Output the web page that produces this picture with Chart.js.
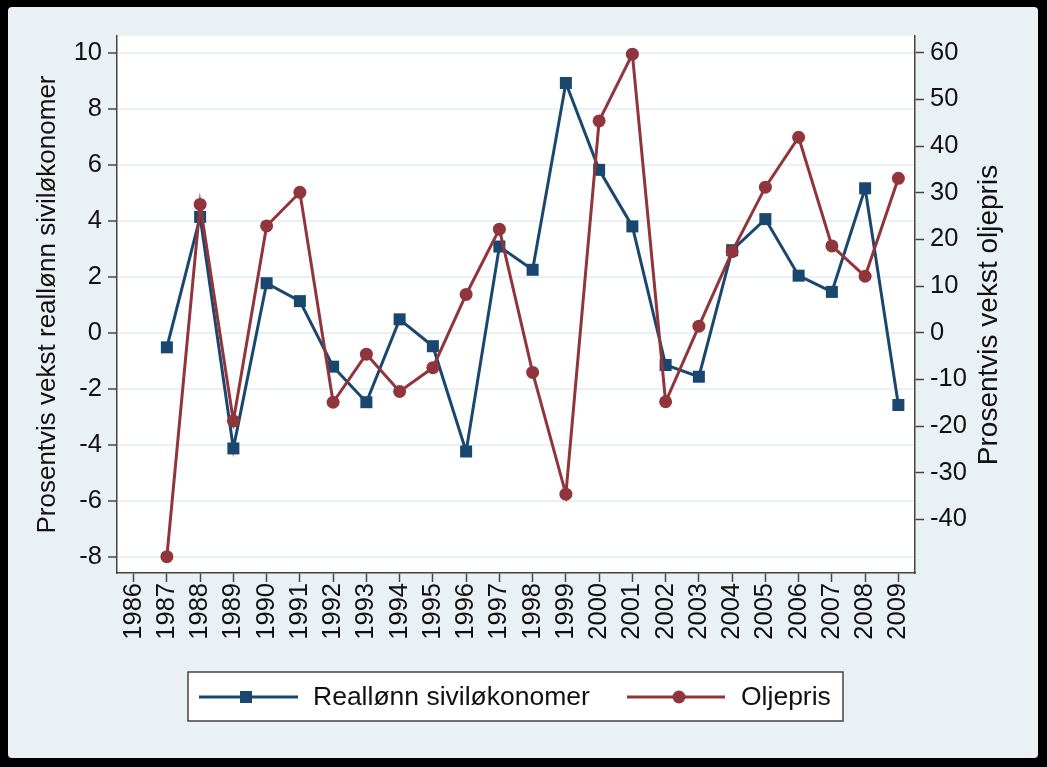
<!DOCTYPE html>
<html>
<head>
<meta charset="utf-8">
<script src="https://cdn.jsdelivr.net/npm/chart.js@4.4.0/dist/chart.umd.min.js"></script>
<style>
  html, body { margin: 0; padding: 0; background: #000; }
  #frame {
    position: absolute; left: 8px; top: 7px; width: 1030px; height: 751px;
    background: #eaf1f4; border-radius: 4px;
  }
</style>
</head>
<body>
<div id="frame"><canvas id="chart" width="1030" height="751"></canvas></div>
<script>
const years = [1987, 1988, 1989, 1990, 1991, 1992, 1993, 1994, 1995, 1996, 1997, 1998,
               1999, 2000, 2001, 2002, 2003, 2004, 2005, 2006, 2007, 2008, 2009];
const reallonn = [-0.52, 4.14, -4.13, 1.77, 1.13, -1.21, -2.48, 0.48, -0.48, -4.24, 3.08, 2.25,
                  8.92, 5.82, 3.8, -1.15, -1.57, 2.95, 4.06, 2.04, 1.46, 5.16, -2.58];
const oljepris = [-48.0, 27.5, -18.9, 22.9, 30.1, -14.9, -4.6, -12.6, -7.5, 8.2, 22.2, -8.5,
                  -34.6, 45.4, 59.7, -14.8, 1.4, 17.4, 31.2, 41.9, 18.6, 12.1, 33.1];
const xTicks = [1986, 1987, 1988, 1989, 1990, 1991, 1992, 1993, 1994, 1995, 1996, 1997,
                1998, 1999, 2000, 2001, 2002, 2003, 2004, 2005, 2006, 2007, 2008, 2009];
const leftTicks = [-8, -6, -4, -2, 0, 2, 4, 6, 8, 10];
const rightTicks = [-40, -30, -20, -10, 0, 10, 20, 30, 40, 50, 60];

const BLUE = '#1a476f';
const RED = '#90353b';
const FONT = '"Liberation Sans", Arial, sans-serif';

// white plot area + right axis title (reads bottom to top) + boxed legend
const decor = {
  id: 'decor',
  beforeDraw(chart) {
    const { ctx, chartArea: a } = chart;
    ctx.save();
    ctx.fillStyle = '#fff';
    ctx.fillRect(a.left, a.top, a.right - a.left, a.bottom - a.top);
    ctx.restore();
  },
  afterDraw(chart) {
    const { ctx } = chart;
    ctx.save();
    ctx.font = '28px ' + FONT;
    ctx.fillStyle = '#111';
    ctx.textAlign = 'center';
    ctx.textBaseline = 'middle';
    ctx.translate(981, 308);
    ctx.rotate(-Math.PI / 2);
    ctx.fillText('Prosentvis vekst oljepris', 0, 0);
    ctx.restore();

    // legend
    ctx.save();
    ctx.fillStyle = '#fff';
    ctx.fillRect(180, 665, 655, 49);
    ctx.strokeStyle = '#444';
    ctx.lineWidth = 1.5;
    ctx.strokeRect(180, 665, 655, 49);
    const ly = 690;
    ctx.lineWidth = 3;
    ctx.strokeStyle = BLUE;
    ctx.beginPath(); ctx.moveTo(191, ly); ctx.lineTo(290, ly); ctx.stroke();
    ctx.fillStyle = BLUE;
    ctx.fillRect(232, ly - 6, 12, 12);
    ctx.strokeStyle = RED;
    ctx.beginPath(); ctx.moveTo(619, ly); ctx.lineTo(717, ly); ctx.stroke();
    ctx.fillStyle = RED;
    ctx.beginPath(); ctx.arc(671, ly, 6.5, 0, Math.PI * 2); ctx.fill();
    ctx.font = '26.5px ' + FONT;
    ctx.fillStyle = '#111';
    ctx.textBaseline = 'middle';
    ctx.fillText('Reallønn siviløkonomer', 305, ly + 1);
    ctx.fillText('Oljepris', 733, ly + 1);
    ctx.restore();
  }
};

new Chart(document.getElementById('chart'), {
  type: 'line',
  data: {
    datasets: [
      {
        label: 'Reallønn siviløkonomer',
        data: years.map((y, i) => ({ x: y, y: reallonn[i] })),
        yAxisID: 'y',
        borderColor: BLUE,
        backgroundColor: BLUE,
        borderWidth: 3,
        pointStyle: 'rect',
        pointRadius: 8.5,
        pointBorderWidth: 0,
        tension: 0,
        order: 2
      },
      {
        label: 'Oljepris',
        data: years.map((y, i) => ({ x: y, y: oljepris[i] })),
        yAxisID: 'y1',
        borderColor: RED,
        backgroundColor: RED,
        borderWidth: 3,
        pointStyle: 'circle',
        pointRadius: 6.5,
        pointBorderWidth: 0,
        tension: 0,
        order: 1
      }
    ]
  },
  options: {
    responsive: false,
    animation: false,
    layout: { padding: { top: 29, left: 0, right: 0, bottom: 0 } },
    plugins: { legend: { display: false }, tooltip: { enabled: false } },
    scales: {
      x: {
        type: 'linear',
        min: 1985.5,
        max: 2009.5,
        afterBuildTicks: axis => { axis.ticks = xTicks.map(v => ({ value: v })); },
        afterFit: axis => { axis.height = 185; },
        grid: { drawOnChartArea: false, tickColor: '#444', tickLength: 9, tickWidth: 1.5 },
        border: { color: '#444', width: 1.5 },
        ticks: {
          minRotation: 90, maxRotation: 90, padding: 1,
          color: '#111', font: { family: FONT, size: 25.5 },
          callback: v => String(v)
        }
      },
      y: {
        position: 'left',
        min: -8.58,
        max: 10.6,
        afterBuildTicks: axis => { axis.ticks = leftTicks.map(v => ({ value: v })); },
        afterFit: axis => { axis.width = 109; },
        grid: { color: '#eaf1f4', lineWidth: 2, tickColor: '#444', tickLength: 9, tickWidth: 1.5 },
        border: { color: '#444', width: 1.5 },
        ticks: { padding: 6, color: '#111', font: { family: FONT, size: 25.5 } },
        title: {
          display: true, text: 'Prosentvis vekst reallønn siviløkonomer',
          color: '#111', font: { family: FONT, size: 26 }, padding: { top: 24, bottom: 0 }
        }
      },
      y1: {
        position: 'right',
        min: -51.5,
        max: 63.6,
        afterBuildTicks: axis => { axis.ticks = rightTicks.map(v => ({ value: v })); },
        afterFit: axis => { axis.width = 123; },
        grid: { drawOnChartArea: false, tickColor: '#444', tickLength: 9, tickWidth: 1.5 },
        border: { color: '#444', width: 1.5 },
        ticks: { padding: 6, color: '#111', font: { family: FONT, size: 25.5 } }
      }
    }
  },
  plugins: [decor]
});
</script>
</body>
</html>
